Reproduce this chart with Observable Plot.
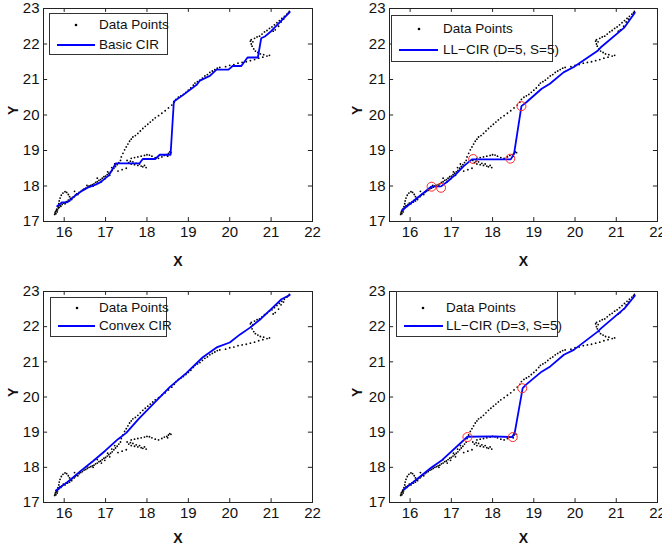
<!DOCTYPE html>
<html><head><meta charset="utf-8">
<script src="https://cdn.jsdelivr.net/npm/d3@7"></script>
<script src="https://cdn.jsdelivr.net/npm/@observablehq/plot@0.6"></script>
<style>
body{margin:0;background:#fff;font-family:"Liberation Sans",Arial,Helvetica,sans-serif;}
#wrap{position:relative;width:662px;height:553px;overflow:hidden;background:#fff;}
.panel{position:absolute;}
.legend{position:absolute;border:1px solid #333;background:#fff;box-sizing:border-box;}
.legend svg{position:absolute;left:0;top:0;overflow:visible;}
.legend span{position:absolute;font-size:13.5px;line-height:1;color:#111;white-space:nowrap;transform:translateY(-50%);}
</style></head><body><div id="wrap"></div>
<script>
const xTicks = [16, 17, 18, 19, 20, 21, 22];
const yTicks = [17, 18, 19, 20, 21, 22, 23];
const seriesLabels = ["Basic CIR", "LL\u2212CIR (D=5, S=5)", "Convex CIR", "LL\u2212CIR (D=3, S=5)"];

// observed data points (same in every panel)
const dataPoints = [
 [15.77,17.20],[15.78,17.24],[15.80,17.22],[15.79,17.28],[15.81,17.31],[15.83,17.27],[15.82,17.35],[15.84,17.33],
 [15.86,17.38],[15.85,17.42],[15.88,17.40],[15.90,17.45],[15.87,17.50],[15.92,17.43],
 [15.88,17.58],[15.90,17.66],[15.93,17.74],[15.97,17.80],[16.02,17.84],[16.06,17.82],[16.10,17.76],[16.13,17.70],[16.16,17.65],
 [15.95,17.48],[15.98,17.52],[16.02,17.50],[16.05,17.56],[16.08,17.55],[16.10,17.60],[16.13,17.58],[16.15,17.64],
 [16.18,17.62],[16.20,17.68],[16.24,17.70],[16.27,17.74],[16.30,17.78],[16.33,17.76],[16.36,17.82],[16.40,17.85],
 [16.44,17.88],[16.48,17.92],[16.52,17.94],[16.56,17.97],[16.60,18.00],[16.64,18.02],[16.68,18.04],[16.72,18.06],
 [16.76,18.10],[16.80,18.12],[16.84,18.16],[16.88,18.18],[16.92,18.22],[16.96,18.26],[17.00,18.28],[17.04,18.32],
 [17.08,18.36],[17.12,18.40],[17.16,18.44],[17.20,18.50],[17.24,18.55],[17.28,18.60],[17.32,18.66],[17.36,18.72],
 [16.25,17.85],[16.55,18.02],[16.80,18.22],[17.05,18.40],[17.15,18.52],[17.22,18.62],
 [16.90,18.12],[17.10,18.30],[17.30,18.42],[17.40,18.46],[17.50,18.50],[16.70,18.00],[16.98,18.20],
 [17.38,18.82],[17.42,18.92],[17.46,19.02],[17.50,19.10],[17.54,19.18],[17.58,19.26],[17.62,19.32],[17.66,19.38],
 [17.72,19.42],[17.78,19.48],[17.84,19.55],[17.90,19.62],[17.96,19.68],[18.02,19.74],[18.08,19.80],[18.14,19.86],
 [18.20,19.92],[18.28,19.98],[18.36,20.05],[18.44,20.12],[18.52,20.20],[18.60,20.28],[18.66,20.36],[18.70,20.44],
 [18.76,20.50],[18.82,20.54],[18.88,20.58],[18.94,20.64],[19.00,20.70],[19.06,20.76],[19.12,20.84],[19.16,20.90],
 [19.22,20.94],[19.28,20.98],[19.34,21.04],[19.40,21.10],[19.46,21.14],[19.52,21.20],[19.58,21.24],[19.64,21.28],
 [19.70,21.32],[19.76,21.34],
 [17.52,18.72],[17.56,18.66],[17.60,18.70],[17.62,18.62],[17.66,18.68],[17.70,18.60],[17.74,18.64],[17.78,18.58],
 [17.82,18.62],[17.86,18.56],[17.90,18.54],[17.94,18.58],[17.98,18.52],
 [17.62,18.78],[17.70,18.80],[17.78,18.82],[17.86,18.84],[17.94,18.86],[18.00,18.88],[18.06,18.87],[18.12,18.84],
 [18.20,18.80],[18.28,18.78],[18.36,18.82],[18.42,18.86],[18.48,18.88],[18.52,18.92],[18.55,18.96],[18.58,18.94],[18.50,18.84],
 [19.90,21.36],[20.00,21.40],[20.10,21.42],[20.20,21.46],[20.30,21.48],[20.40,21.50],[20.50,21.53],[20.60,21.56],
 [20.70,21.60],[20.80,21.63],[20.90,21.66],[20.96,21.68],
 [20.50,22.08],[20.52,22.00],[20.54,21.94],[20.58,21.86],[20.62,21.80],[20.68,21.76],[20.74,21.72],[20.82,21.70],
 [20.52,22.12],[20.56,22.06],[20.60,22.16],[20.66,22.20],[20.72,22.22],[20.78,22.28],[20.84,22.34],[20.90,22.38],
 [20.96,22.44],[21.02,22.48],[21.08,22.54],[21.14,22.60],[21.20,22.66],[21.26,22.72],[21.32,22.78],[21.38,22.84],
 [21.42,22.88],[21.44,22.92],[21.10,22.40],[21.18,22.50],[21.24,22.62],[21.30,22.70],[21.05,22.36]
];

const basicCIR = [[15.83,17.43],[15.95,17.54],[16.07,17.54],[16.27,17.73],[16.44,17.87],[16.60,17.97],[16.76,18.04],
 [16.88,18.11],[17.08,18.30],[17.25,18.64],[17.82,18.64],[17.90,18.76],[18.20,18.76],[18.31,18.88],[18.57,18.88],
 [18.65,20.38],[18.87,20.56],[19.20,20.85],[19.28,20.97],[19.44,21.06],[19.52,21.10],[19.68,21.28],[19.97,21.28],
 [20.07,21.38],[20.28,21.38],[20.43,21.62],[20.68,21.62],[20.76,22.16],[20.86,22.22],[21.00,22.36],[21.45,22.90]];

const llcirD5 = [[15.80,17.31],[16.00,17.50],[16.30,17.78],[16.51,17.98],[16.75,17.99],[16.90,18.12],[17.10,18.32],
 [17.30,18.56],[17.50,18.75],[18.44,18.75],[18.52,18.90],[18.70,20.25],[18.82,20.36],[19.19,20.74],[19.39,20.88],
 [19.72,21.20],[19.97,21.35],[20.54,21.80],[20.62,21.90],[21.20,22.47],[21.45,22.88]];
const circlesD5 = [[16.52,17.98],[16.75,17.95],[17.53,18.76],[18.43,18.77],[18.70,20.25]];

const convexCIR = [[15.80,17.34],[16.10,17.60],[16.40,17.90],[16.70,18.18],[17.00,18.48],[17.30,18.80],[17.50,18.98],
 [17.80,19.38],[18.20,19.86],[18.55,20.28],[18.95,20.68],[19.35,21.13],[19.70,21.42],[20.00,21.55],[20.25,21.78],
 [20.50,21.98],[20.75,22.22],[21.00,22.50],[21.25,22.78],[21.45,22.90]];

const llcirD3 = [[15.84,17.36],[16.50,17.98],[16.78,18.21],[17.39,18.87],[18.00,18.88],[18.48,18.86],[18.54,19.00],
 [18.73,20.25],[18.82,20.36],[19.19,20.72],[19.40,20.87],[19.73,21.20],[19.97,21.34],[20.55,21.86],[20.63,21.95],
 [21.20,22.52],[21.45,22.88]];
const circlesD3 = [[17.39,18.86],[18.49,18.86],[18.72,20.25]];

const panels = [
 {left:0, top:0, ml:43, mr:19, mt:8, mb:55, line:basicCIR, circles:[], label:seriesLabels[0], xdy:44, ydx:-30,
  lg:{box:[49,13,119,42], dot:76, l1:57, l2:95, tx:99, r1:25, r2:45}},
 {left:331, top:0, ml:58, mr:5, mt:8, mb:55, line:llcirD5, circles:circlesD5, label:seriesLabels[1], xdy:44, ydx:-32,
  lg:{box:[391,15,162,47], dot:419, l1:399, l2:438, tx:443, r1:29, r2:50}},
 {left:0, top:276, ml:43, mr:19, mt:15, mb:50, line:convexCIR, circles:[], label:seriesLabels[2], xdy:40, ydx:-30,
  lg:{box:[50,297,117,40], dot:77, l1:58, l2:95, tx:99, r1:308, r2:326}},
 {left:331, top:276, ml:58, mr:5, mt:15, mb:50, line:llcirD3, circles:circlesD3, label:seriesLabels[3], xdy:40, ydx:-32,
  lg:{box:[396,291,162,46], dot:423, l1:404, l2:443, tx:446, r1:308, r2:326}}
];

const wrap = document.getElementById("wrap");
const pts = dataPoints.map(([x, y]) => ({x, y}));
const xd = [15.5, 22], yd = [17, 23];
const tkx = 0.1, tky = 0.11;

for (const p of panels) {
  const line = p.line.map(([x, y]) => ({x, y}));
  const circ = p.circles.map(([x, y]) => ({x, y}));
  const chart = Plot.plot({
    width: 331, height: 276,
    marginLeft: p.ml, marginRight: p.mr, marginTop: p.mt, marginBottom: p.mb,
    x: {domain: xd}, y: {domain: yd},
    style: {fontFamily: "'Liberation Sans', Arial, sans-serif", fontSize: "14px", color: "#111", background: "transparent", overflow: "visible"},
    marks: [
      Plot.dot(pts, {x: "x", y: "y", r: 0.9, fill: "#000", stroke: null}),
      Plot.line(line, {x: "x", y: "y", stroke: "#0000ff", strokeWidth: 1.8}),
      Plot.dot(circ, {x: "x", y: "y", r: 4.5, stroke: "#ff2a2a", strokeWidth: 1, fill: "none"}),
      Plot.ruleX(xTicks, {x: d => d, y1: yd[0], y2: yd[0] + tky, stroke: "#222"}),
      Plot.ruleX(xTicks, {x: d => d, y1: yd[1], y2: yd[1] - tky, stroke: "#222"}),
      Plot.ruleY(yTicks, {y: d => d, x1: xd[0], x2: xd[0] + tkx, stroke: "#222"}),
      Plot.ruleY(yTicks, {y: d => d, x1: xd[1], x2: xd[1] - tkx, stroke: "#222"}),
      Plot.frame({stroke: "#222"}),
      Plot.axisX({ticks: xTicks, tickSize: 0, tickPadding: 5, tickFormat: d => String(d), fontSize: 15, label: null}),
      Plot.axisY({ticks: yTicks, tickSize: 0, tickPadding: 4, tickFormat: d => String(d), fontSize: 15, label: null}),
      Plot.text(["X"], {frameAnchor: "bottom", dy: p.xdy, fontWeight: "bold", fontSize: 14, fill: "#111"}),
      Plot.text(["Y"], {frameAnchor: "left", dx: p.ydx, rotate: -90, fontWeight: "bold", fontSize: 14, fill: "#111"})
    ]
  });
  chart.classList.add("panel");
  chart.style.left = p.left + "px";
  chart.style.top = p.top + "px";
  wrap.appendChild(chart);

  // legend
  const g = p.lg;
  const box = document.createElement("div");
  box.className = "legend";
  box.style.left = g.box[0] + "px"; box.style.top = g.box[1] + "px";
  box.style.width = g.box[2] + "px"; box.style.height = g.box[3] + "px";
  const bx = g.box[0] + 1, by = g.box[1] + 1;
  const s = d3.create("svg").attr("width", g.box[2]).attr("height", g.box[3]);
  s.append("circle").attr("cx", g.dot - bx).attr("cy", g.r1 - by).attr("r", 1.3).attr("fill", "#000");
  s.append("line").attr("x1", g.l1 - bx).attr("x2", g.l2 - bx).attr("y1", g.r2 - by).attr("y2", g.r2 - by)
    .attr("stroke", "#0000ff").attr("stroke-width", 2);
  box.appendChild(s.node());
  [["Data Points", g.r1], [p.label, g.r2]].forEach(([t, ry]) => {
    const sp = document.createElement("span");
    sp.textContent = t;
    sp.style.left = (g.tx - bx) + "px";
    sp.style.top = (ry - by) + "px";
    box.appendChild(sp);
  });
  wrap.appendChild(box);
}
</script>
</body></html>
